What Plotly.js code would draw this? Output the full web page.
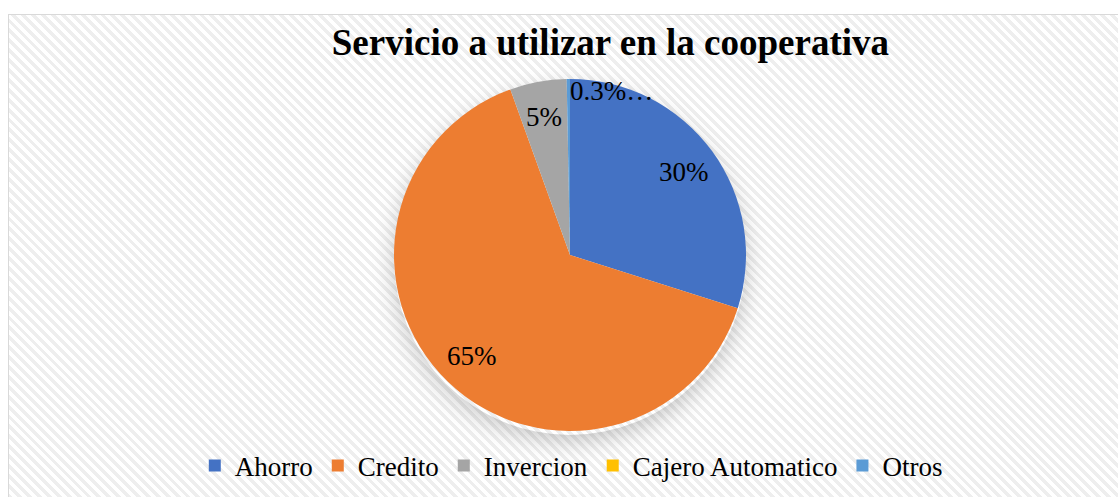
<!DOCTYPE html>
<html>
<head>
<meta charset="utf-8">
<script src="https://cdn.plot.ly/plotly-3.0.1.min.js"></script>
<style>
  html, body { margin: 0; padding: 0; background: #ffffff; }
  #wrap { position: relative; width: 1118px; height: 497px; overflow: hidden; background: #ffffff; }
  #frame { position: absolute; left: 8px; top: 14px; width: 1120px; height: 500px;
    border: 1.5px solid #d9d9d9; box-sizing: border-box;
    background: repeating-linear-gradient(45deg, #ffffff 0px, #ffffff 3.5px, #eeeeee 3.5px, #eeeeee 7px); }
  #shadow { position: absolute; left: 394px; top: 83px; width: 352px; height: 352px; border-radius: 50%;
    box-shadow: 0 6px 22px rgba(0,0,0,0.22); }
  #chart { position: absolute; left: 0; top: 0; width: 1118px; height: 497px; }
</style>
</head>
<body>
<div id="wrap">
  <div id="frame"></div>
  <div id="shadow"></div>
  <div id="chart"></div>
</div>
<script>
// ---- data ----
const categories = ["Ahorro", "Credito", "Invercion", "Cajero Automatico", "Otros"];
const values = [29.9, 64.6, 5.2, 0, 0.3];
const labelTexts = ["30%", "65%", "5%", "", "0.3%…"];
const colors = ["#4472C4", "#ED7D31", "#A5A5A5", "#FFC000", "#5B9BD5"];

// ---- geometry ----
const W = 1118, H = 497;
const cx = 570, cy = 255, R = 176;

const total = values.reduce((a, b) => a + b, 0);
const annotations = [];
let cum = 0;
values.forEach((v, i) => {
  const frac = v / total;
  const mid = cum + frac / 2;
  cum += frac;
  if (!labelTexts[i]) return;
  const th = 2 * Math.PI * mid;
  const small = frac < 0.01;
  const rf = small ? 0.93 : 0.8;
  const px = cx + R * rf * Math.sin(th);
  const py = cy - R * rf * Math.cos(th);
  annotations.push({
    x: px / W, y: 1 - py / H, xref: "paper", yref: "paper",
    text: labelTexts[i], showarrow: false,
    xanchor: small ? "left" : "center", yanchor: "middle",
    font: { family: "Liberation Serif", size: 27, color: "#000000" }
  });
});

const trace = {
  type: "pie",
  labels: categories,
  values: values,
  sort: false,
  direction: "clockwise",
  rotation: 0,
  textinfo: "none",
  hoverinfo: "label+percent",
  marker: { colors: colors, line: { width: 0 } },
  domain: { x: [(cx - R) / W, (cx + R) / W], y: [1 - (cy + R) / H, 1 - (cy - R) / H] },
  showlegend: true
};

const layout = {
  width: W, height: H,
  margin: { l: 0, r: 0, t: 0, b: 0 },
  paper_bgcolor: "rgba(0,0,0,0)",
  plot_bgcolor: "rgba(0,0,0,0)",
  title: {
    text: "<b>Servicio a utilizar en la cooperativa</b>",
    x: 0.546, xanchor: "center", y: 1 - 42 / H, yanchor: "middle",
    font: { family: "Liberation Serif", size: 37, color: "#000000" }
  },
  legend: {
    orientation: "h", x: 0.511, xanchor: "center", y: 1 - 466 / H, yanchor: "middle",
    font: { family: "Liberation Serif", size: 27, color: "#000000" },
    bgcolor: "rgba(0,0,0,0)", itemwidth: 30, traceorder: "normal"
  },
  annotations: annotations
};

Plotly.newPlot("chart", [trace], layout, { displayModeBar: false, staticPlot: true });
</script>
</body>
</html>
